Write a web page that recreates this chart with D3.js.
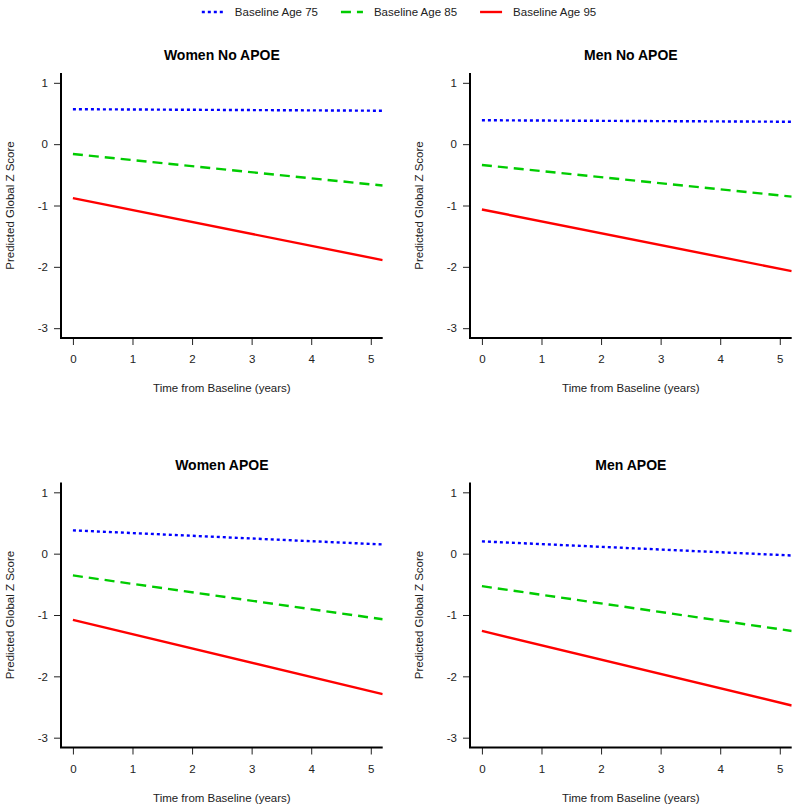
<!DOCTYPE html>
<html>
<head>
<meta charset="utf-8">
<script src="https://cdn.jsdelivr.net/npm/d3@7"></script>
<style>
  html, body { margin: 0; padding: 0; background: #fff; }
  svg { display: block; font-family: "Liberation Sans", Arial, Helvetica, sans-serif; }
</style>
</head>
<body>
<div id="chart"></div>
<script>
// ---- data ----
const panels = ["Women No APOE", "Men No APOE", "Women APOE", "Men APOE"];
const seriesNames = ["Baseline Age 75", "Baseline Age 85", "Baseline Age 95"];
const times = [0, 5.2];
const age75 = [[0.57, 0.545], [0.39, 0.365], [0.38, 0.15], [0.20, -0.03]];
const age85 = [[-0.16, -0.675], [-0.34, -0.855], [-0.355, -1.07], [-0.53, -1.26]];
const age95 = [[-0.88, -1.89], [-1.065, -2.07], [-1.08, -2.29], [-1.26, -2.475]];
const xTicks = [0, 1, 2, 3, 4, 5];
const yTicks = [-3, -2, -1, 0, 1];
const xTitle = "Time from Baseline (years)";
const yTitle = "Predicted Global Z Score";

// ---- styles ----
const colors = ["#0000ff", "#00cc00", "#ff0000"];
const dashes = ["3,3", "10,6", null];
const seriesData = [age75, age85, age95];

const W = 800, H = 812;
const svg = d3.select("#chart").append("svg").attr("width", W).attr("height", H);

const plotW = 321.7, plotH = 265;
const origins = [[61, 73], [470, 73], [61, 482.5], [470, 482.5]];

const x = d3.scaleLinear().domain([-0.2, 5.2]).range([0, plotW]);
const y = d3.scaleLinear().domain([-3.16, 1.16]).range([plotH, 0]);
const line = d3.line().x(d => x(d[0])).y(d => y(d[1]));
const fmt = d => String(d);

panels.forEach((name, i) => {
  const g = svg.append("g").attr("transform", `translate(${origins[i][0]},${origins[i][1]})`);

  // title
  g.append("text").attr("x", plotW / 2).attr("y", -13).attr("text-anchor", "middle")
    .attr("font-size", 14).attr("font-weight", "bold").attr("fill", "#000").text(name);

  // clip
  const clipId = "clip" + i;
  g.append("clipPath").attr("id", clipId).append("rect")
    .attr("x", 0).attr("y", 0).attr("width", plotW).attr("height", plotH);

  // series
  seriesData.forEach((s, k) => {
    const pts = times.map((t, j) => [t, s[i][j]]);
    g.append("path").datum(pts).attr("d", line)
      .attr("clip-path", `url(#${clipId})`)
      .attr("fill", "none").attr("stroke", colors[k]).attr("stroke-width", 2.4)
      .attr("stroke-dasharray", dashes[k]);
  });

  // x axis
  const xa = g.append("g").attr("transform", `translate(0,${plotH})`)
    .call(d3.axisBottom(x).tickValues(xTicks).tickSize(7).tickSizeOuter(0).tickPadding(10).tickFormat(fmt));
  xa.select(".domain").remove();
  xa.selectAll("text").attr("font-size", 11.5).attr("fill", "#222").attr("font-family", "Liberation Sans, Arial, sans-serif");
  xa.selectAll("line").attr("stroke", "#222");

  // y axis
  const ya = g.append("g")
    .call(d3.axisLeft(y).tickValues(yTicks).tickSize(7).tickSizeOuter(0).tickPadding(6).tickFormat(fmt));
  ya.select(".domain").remove();
  ya.selectAll("text").attr("font-size", 11.5).attr("fill", "#222").attr("font-family", "Liberation Sans, Arial, sans-serif");
  ya.selectAll("line").attr("stroke", "#222");

  // L-shaped box
  g.append("path").attr("d", `M0,0V${plotH}H${plotW}`)
    .attr("fill", "none").attr("stroke", "#000").attr("stroke-width", 2);

  // axis titles
  g.append("text").attr("x", x(2.5)).attr("y", plotH + 54).attr("text-anchor", "middle")
    .attr("font-size", 11.5).attr("fill", "#222").text(xTitle);
  g.append("text").attr("transform", `translate(-47,${plotH / 2}) rotate(-90)`)
    .attr("text-anchor", "middle").attr("font-size", 11.5).attr("fill", "#222").text(yTitle);
});

// legend
const leg = svg.append("g").attr("transform", "translate(0,12)");
let items = seriesNames.map((n, k) => {
  const it = leg.append("g");
  it.append("line").attr("x1", 0).attr("x2", 22).attr("y1", 0).attr("y2", 0)
    .attr("stroke", colors[k]).attr("stroke-width", 2.4).attr("stroke-dasharray", dashes[k]);
  const t = it.append("text").attr("x", 33).attr("y", 4).attr("font-size", 11.5).attr("fill", "#222").text(n);
  return { g: it, w: 33 + t.node().getComputedTextLength() };
});
const gap = 23;
const total = d3.sum(items, d => d.w) + gap * (items.length - 1);
let cx = 399 - total / 2;
items.forEach(d => { d.g.attr("transform", `translate(${cx},0)`); cx += d.w + gap; });
</script>
</body>
</html>
